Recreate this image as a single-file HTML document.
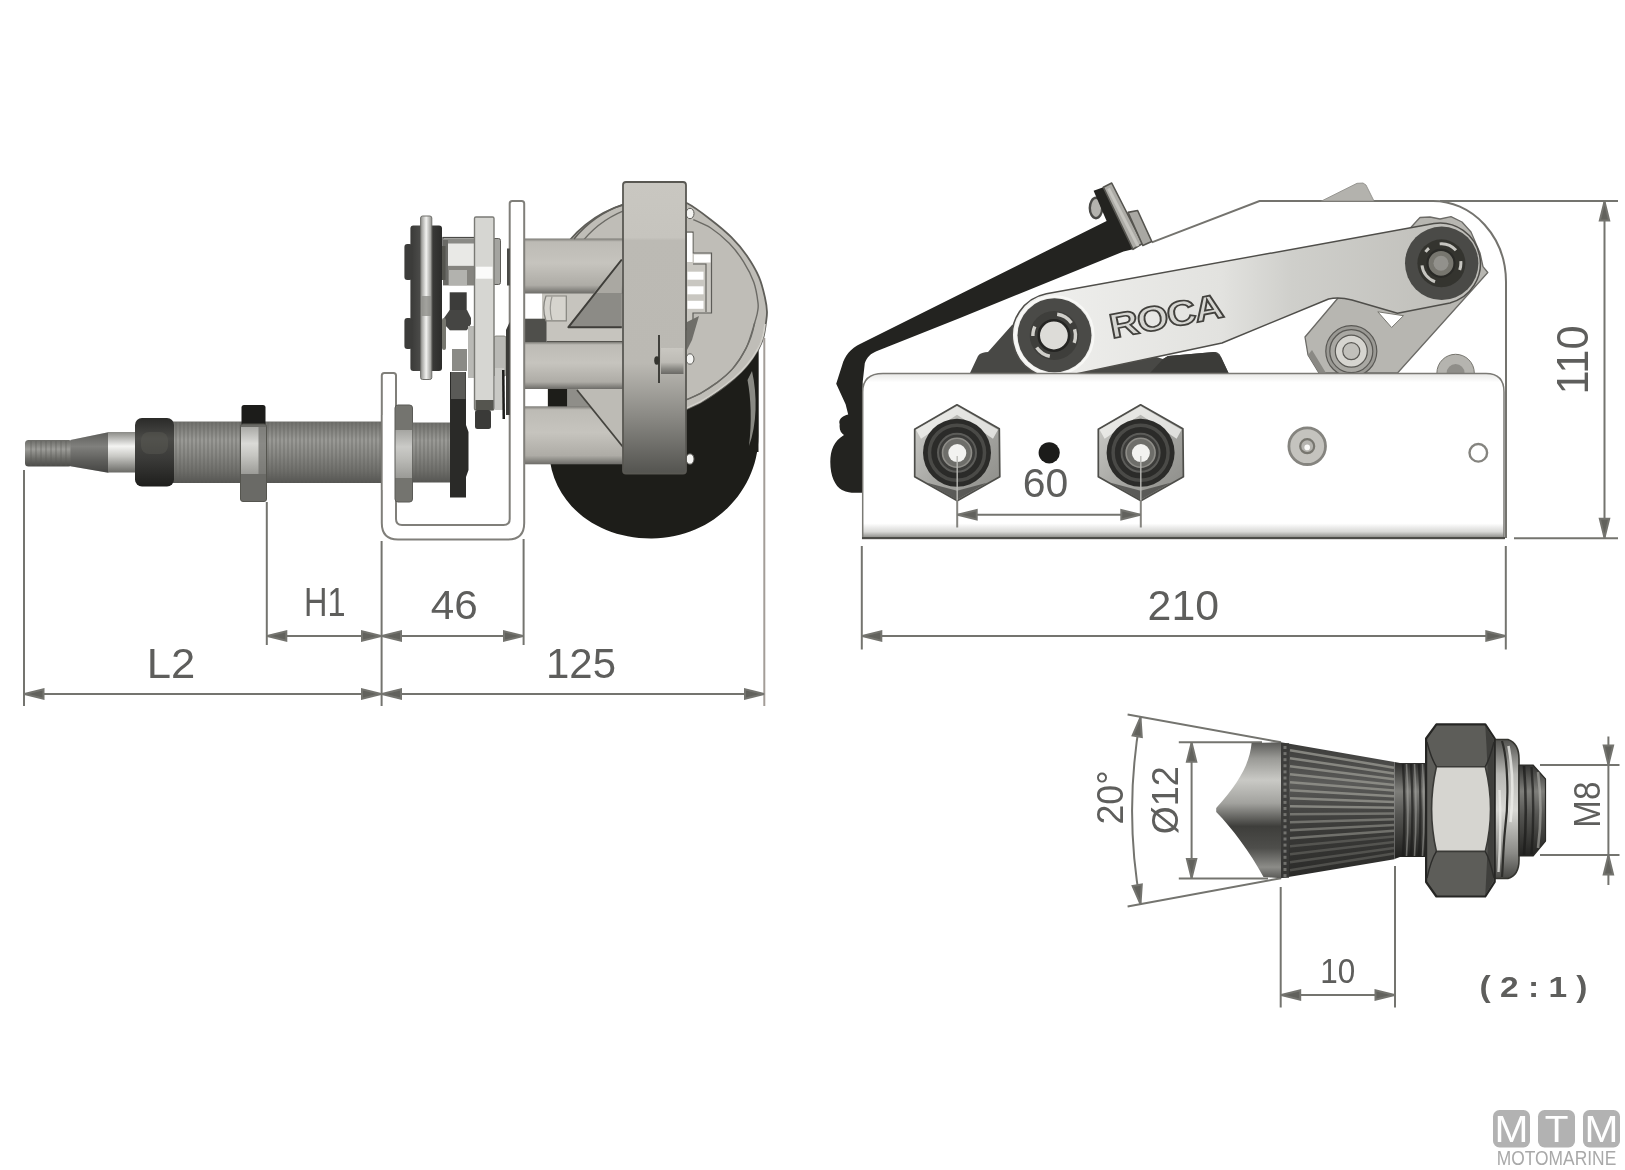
<!DOCTYPE html>
<html><head><meta charset="utf-8"><title>ROCA wiper motor dimensions</title>
<style>
html,body{margin:0;padding:0;background:#fff;}
body{width:1625px;height:1170px;overflow:hidden;font-family:"Liberation Sans",sans-serif;}
svg{display:block;}
svg text{font-family:"Liberation Sans",sans-serif;}
</style></head><body>
<svg width="1625" height="1170" viewBox="0 0 1625 1170" style="filter:blur(0.55px)">
<rect width="1625" height="1170" fill="#ffffff"/>
<defs>
<linearGradient id="gRod" x1="0" y1="0" x2="0" y2="1">
 <stop offset="0" stop-color="#7a7974"/><stop offset="0.06" stop-color="#bdbbb5"/><stop offset="0.45" stop-color="#c6c4be"/><stop offset="0.85" stop-color="#aeaca6"/><stop offset="1" stop-color="#6d6c68"/>
</linearGradient>
<linearGradient id="gFlange" gradientUnits="userSpaceOnUse" x1="0" y1="182" x2="0" y2="474">
 <stop offset="0" stop-color="#c9c7c1"/><stop offset="0.19" stop-color="#c6c4be"/><stop offset="0.2" stop-color="#bcbab4"/><stop offset="0.62" stop-color="#bbb9b3"/><stop offset="0.8" stop-color="#8b8a85"/><stop offset="1" stop-color="#53534f"/>
</linearGradient>
<linearGradient id="gThread" x1="0" y1="0" x2="0" y2="1">
 <stop offset="0" stop-color="#6f6f6b"/><stop offset="0.3" stop-color="#9a9a96"/><stop offset="0.5" stop-color="#8a8a86"/><stop offset="0.8" stop-color="#6e6e6a"/><stop offset="1" stop-color="#555552"/>
</linearGradient>
<linearGradient id="gSilverV" x1="0" y1="0" x2="0" y2="1">
 <stop offset="0" stop-color="#8a8a86"/><stop offset="0.35" stop-color="#f4f4f2"/><stop offset="0.6" stop-color="#c8c8c4"/><stop offset="1" stop-color="#6a6a66"/>
</linearGradient>
<linearGradient id="gTip" x1="0" y1="0" x2="0" y2="1">
 <stop offset="0" stop-color="#6a6a66"/><stop offset="0.35" stop-color="#9c9c98"/><stop offset="0.7" stop-color="#6c6c68"/><stop offset="1" stop-color="#4a4a47"/>
</linearGradient>
<linearGradient id="gCollar" x1="0" y1="0" x2="0" y2="1">
 <stop offset="0" stop-color="#2a2a28"/><stop offset="0.3" stop-color="#4a4a47"/><stop offset="0.6" stop-color="#3a3a38"/><stop offset="1" stop-color="#1e1e1c"/>
</linearGradient>
<linearGradient id="gDisc" x1="0" y1="0" x2="1" y2="0">
 <stop offset="0" stop-color="#8e8e8a"/><stop offset="0.5" stop-color="#f2f2f0"/><stop offset="1" stop-color="#8e8e8a"/>
</linearGradient>
<linearGradient id="gRoller" x1="0" y1="0" x2="1" y2="0">
 <stop offset="0" stop-color="#3a3a38"/><stop offset="0.3" stop-color="#4a4a48"/><stop offset="1" stop-color="#2c2c2a"/>
</linearGradient>
<linearGradient id="gPlateR" gradientUnits="userSpaceOnUse" x1="0" y1="374" x2="0" y2="540">
 <stop offset="0" stop-color="#e9e9e7"/><stop offset="0.05" stop-color="#ffffff"/><stop offset="0.9" stop-color="#ffffff"/><stop offset="0.95" stop-color="#d8d8d6"/><stop offset="0.985" stop-color="#8e8e8a"/><stop offset="1" stop-color="#5c5c58"/>
</linearGradient>
<linearGradient id="gArm" gradientUnits="userSpaceOnUse" x1="1010" y1="0" x2="1480" y2="0">
 <stop offset="0" stop-color="#f1f1ef"/><stop offset="0.45" stop-color="#e2e2df"/><stop offset="0.6" stop-color="#cfcfcb"/><stop offset="1" stop-color="#bdbcb7"/>
</linearGradient>
<linearGradient id="gConeS" gradientUnits="userSpaceOnUse" x1="0" y1="742" x2="0" y2="878">
 <stop offset="0" stop-color="#5a5a57"/><stop offset="0.12" stop-color="#9a9a96"/><stop offset="0.28" stop-color="#c9c9c5"/><stop offset="0.45" stop-color="#a2a29e"/><stop offset="0.62" stop-color="#3e3e3b"/><stop offset="0.78" stop-color="#4e4e4b"/><stop offset="0.92" stop-color="#8c8c88"/><stop offset="1" stop-color="#5a5a57"/>
</linearGradient>
<linearGradient id="gConeD" gradientUnits="userSpaceOnUse" x1="0" y1="742" x2="0" y2="878">
 <stop offset="0" stop-color="#3a3a38"/><stop offset="0.3" stop-color="#5a5a58"/><stop offset="0.6" stop-color="#3c3c3a"/><stop offset="1" stop-color="#2a2a28"/>
</linearGradient>
<linearGradient id="gNutMid" gradientUnits="userSpaceOnUse" x1="0" y1="766" x2="0" y2="854">
 <stop offset="0" stop-color="#8a8a86"/><stop offset="0.25" stop-color="#c6c5c0"/><stop offset="0.7" stop-color="#b4b3ae"/><stop offset="1" stop-color="#8e8d88"/>
</linearGradient>
<linearGradient id="gNutDark" gradientUnits="userSpaceOnUse" x1="0" y1="724" x2="0" y2="896">
 <stop offset="0" stop-color="#454542"/><stop offset="0.2" stop-color="#62625f"/><stop offset="0.8" stop-color="#5a5a57"/><stop offset="1" stop-color="#3c3c3a"/>
</linearGradient>
<linearGradient id="gThrD" gradientUnits="userSpaceOnUse" x1="0" y1="763" x2="0" y2="857">
 <stop offset="0" stop-color="#2e2e2c"/><stop offset="0.3" stop-color="#7e7e7a"/><stop offset="0.55" stop-color="#555552"/><stop offset="1" stop-color="#222220"/>
</linearGradient>
<linearGradient id="gWash" gradientUnits="userSpaceOnUse" x1="0" y1="738" x2="0" y2="882">
 <stop offset="0" stop-color="#4e4e4b"/><stop offset="0.25" stop-color="#b8b8b4"/><stop offset="0.5" stop-color="#d8d8d4"/><stop offset="0.8" stop-color="#8a8a86"/><stop offset="1" stop-color="#3e3e3b"/>
</linearGradient>
<linearGradient id="gHexNut" x1="0" y1="0" x2="1" y2="1">
 <stop offset="0" stop-color="#d0d0cc"/><stop offset="0.5" stop-color="#a8a8a4"/><stop offset="1" stop-color="#8a8a86"/>
</linearGradient>
<linearGradient id="gLug" x1="0" y1="0" x2="0" y2="1">
 <stop offset="0" stop-color="#c9c7c1"/><stop offset="0.55" stop-color="#bdbbb5"/><stop offset="0.8" stop-color="#8a8984"/><stop offset="1" stop-color="#6a6965"/>
</linearGradient>
</defs>
<g id="leftview">
<path d="M549,452 C552,505 598,539 652,538.5 C712,538 758,492 758.5,436 L758.5,300 L600,300 L600,452 Z" fill="#1d1d19"/>
<path d="M655,420 A110,110 0 0 1 545,310 A110,110 0 0 1 655,200 C657.8,200.1 666.6,200.2 672.0,200.8 C677.4,201.4 680.7,200.2 687.2,203.3 C693.7,206.5 703.4,214.0 710.8,219.7 C718.1,225.3 725.3,231.2 731.3,237.2 C737.3,243.2 742.1,248.9 746.7,255.6 C751.3,262.3 756.0,270.2 759.0,277.2 C762.0,284.2 763.7,291.9 765.0,297.7 C766.3,303.5 766.9,307.6 767.0,312.0 C767.1,316.4 766.4,319.7 765.8,324.0 C765.2,328.3 764.5,333.7 763.2,338.0 C761.9,342.3 760.5,345.4 758.0,350.0 C755.5,354.6 751.9,360.7 747.9,365.5 C743.9,370.3 739.4,374.4 734.2,379.0 C729.1,383.6 722.7,388.8 717.0,392.8 C711.3,396.8 705.2,400.2 700.0,403.0 C694.8,405.8 688.3,408.6 686.0,409.7 Z" fill="#bfbdb7" stroke="#5f5e59" stroke-width="1.8"/>
<path d="M579,246 A104,104 0 0 1 624,210.7" fill="none" stroke="#6b6a65" stroke-width="1.3"/>
<path d="M693.3,219.7 C696.2,221.1 704.8,224.1 710.8,228.0 C716.8,231.9 723.7,237.7 729.2,243.3 C734.7,248.9 739.5,255.3 743.6,261.8 C747.7,268.3 751.4,275.5 753.8,282.3 C756.2,289.1 757.4,297.9 758.0,302.8 C758.6,307.8 758.0,308.7 757.5,312.0 C757.0,315.3 756.6,316.6 754.7,322.7 C752.8,328.8 749.7,340.7 746.0,348.4 C742.3,356.1 737.3,363.2 732.5,368.9 C727.7,374.6 722.4,378.5 717.0,382.6 C711.6,386.7 705.2,390.8 700.0,393.7 C694.8,396.6 688.3,398.9 686.0,400.0" fill="none" stroke="#6b6a65" stroke-width="1.4"/>
<path d="M600,421 L687,421 L686,410.5 L700,404 C710,398 722,390 734,380 C742,373 750,365 758.3,351 L758.5,452 L600,452 Z" fill="#1d1d19"/>
<path d="M765,324 C764,336 762,342 757.5,349.5 C750,363 742,371 734,378 C722,388 710,396 700,402 L686,408.5" fill="none" stroke="#d2d0ca" stroke-width="1.6"/>
<path d="M754.7,322.7 C753,332 750,341 746,348.4 C742,356 738,363 732.5,368.9 C728,374 722,379 717,382.6 L700,393.7 L686,400" fill="none" stroke="#6b6a65" stroke-width="1.3"/>
<path d="M752,371 C757.5,395 757,425 749,446 C752,422 751,398 747.5,380 Z" fill="#8a8a84"/>
<path d="M686,232 L693,232 L693,253 L711.5,253 L711.5,313 L693,313 L693,322 L686,330 Z" fill="#c9c7c1" stroke="#5d5c58" stroke-width="1.2"/>
<path d="M693,264 L706,264 L706,312" fill="none" stroke="#5d5c58" stroke-width="1.1"/>
<rect x="687" y="233" width="5.5" height="29" fill="#fff"/>
<rect x="694" y="254.5" width="16.5" height="8" fill="#fff"/>
<rect x="687.5" y="271.7" width="16" height="8" fill="#fff"/>
<rect x="687.5" y="286.3" width="16" height="8" fill="#fff"/>
<rect x="687.5" y="300.8" width="16" height="8" fill="#fff"/>
<path d="M687,322 L699,316 L692,340 L687,350 Z" fill="#6f6e69"/>
<ellipse cx="690" cy="213.5" rx="4" ry="5.2" fill="#f4f4f2" stroke="#5d5c58" stroke-width="1"/>
<ellipse cx="690" cy="359" rx="4" ry="5.2" fill="#f4f4f2" stroke="#5d5c58" stroke-width="1"/>
<ellipse cx="690" cy="459" rx="4" ry="5.2" fill="#f4f4f2" stroke="#5d5c58" stroke-width="1"/>
<rect x="524" y="292" width="99" height="51" fill="#c6c4be"/>
<rect x="524" y="292" width="18" height="27" fill="#fff"/>
<rect x="524" y="318.7" width="22.5" height="24" fill="#4f4f4b"/>
<path d="M546,296 L566.3,296 L566.3,320.8 L546,320.8 Q541.5,308 546,296 Z" fill="#d6d4ce" stroke="#85847f" stroke-width="1.2"/>
<path d="M552,296.5 Q548.5,308 552,320.5" fill="none" stroke="#9a9994" stroke-width="1.2"/>
<line x1="546.5" y1="341.6" x2="623" y2="341.6" stroke="#55544f" stroke-width="1.4"/>
<rect x="524" y="387" width="99" height="22" fill="#bebcb6"/>
<rect x="524" y="387" width="23.5" height="22" fill="#fff"/>
<rect x="548" y="388" width="19.4" height="20" fill="#1d1d19"/>
<polygon points="567.4,388 577,388 590,408 567.4,408" fill="#8f8e89"/>
<rect x="524" y="238.5" width="99" height="55" fill="url(#gRod)"/>
<rect x="524" y="342" width="99" height="47" fill="url(#gRod)"/>
<rect x="524" y="406.3" width="99" height="58" fill="url(#gRod)"/>
<polygon points="593.5,293 621.8,259.5 621.8,293" fill="#aaa8a2"/>
<polygon points="568.4,327.2 595.3,293 621.8,293 621.8,327.2" fill="#8c8b86"/>
<path d="M621.8,259.5 L568.4,327.2 L621.8,327.2" fill="none" stroke="#3f3e3a" stroke-width="2" stroke-linejoin="round"/>
<polygon points="577,390 623.8,448 623.8,390" fill="#bdbbb5"/>
<line x1="577" y1="390" x2="623.8" y2="448" stroke="#45443f" stroke-width="1.8"/>
<path d="M574,239 A110,110 0 0 1 623,204.6" fill="none" stroke="#5f5e59" stroke-width="1.6"/>
<rect x="623" y="182" width="63" height="291.5" rx="3" fill="url(#gFlange)" stroke="#595853" stroke-width="1.8"/>
<rect x="661" y="348" width="22.5" height="26" fill="url(#gLug)"/>
<path d="M659,335 L659,383" fill="none" stroke="#34342f" stroke-width="1.8"/>
<ellipse cx="656.8" cy="360.5" rx="2.6" ry="4.2" fill="#34342f"/>
<path d="M381.8,375.5 Q381.8,373 384.3,373 L393.5,373 Q396,373 396,375.5 L396,519 Q396,525 402,525 L503.5,525 Q509.7,525 509.7,519 L509.7,203.5 Q509.7,201 512.2,201 L521.7,201 Q524.2,201 524.2,203.5 L524.2,523 Q524.2,539.5 508,539.5 L398,539.5 Q381.8,539.5 381.8,523 Z" fill="#ffffff" stroke="#807f7a" stroke-width="2" stroke-linejoin="round"/>
<rect x="25" y="440" width="47" height="26.5" rx="3.5" fill="url(#gTip)"/>
<line x1="31" y1="441" x2="31" y2="466" stroke="#5a5a57" stroke-width="1" opacity="0.55"/>
<line x1="36" y1="441" x2="36" y2="466" stroke="#5a5a57" stroke-width="1" opacity="0.55"/>
<line x1="41" y1="441" x2="41" y2="466" stroke="#5a5a57" stroke-width="1" opacity="0.55"/>
<line x1="46" y1="441" x2="46" y2="466" stroke="#5a5a57" stroke-width="1" opacity="0.55"/>
<line x1="51" y1="441" x2="51" y2="466" stroke="#5a5a57" stroke-width="1" opacity="0.55"/>
<line x1="56" y1="441" x2="56" y2="466" stroke="#5a5a57" stroke-width="1" opacity="0.55"/>
<line x1="61" y1="441" x2="61" y2="466" stroke="#5a5a57" stroke-width="1" opacity="0.55"/>
<line x1="66" y1="441" x2="66" y2="466" stroke="#5a5a57" stroke-width="1" opacity="0.55"/>
<polygon points="70.5,440 108.3,432.3 108.3,472.7 70.5,466.3" fill="url(#gTip)"/><polygon points="70.5,440 108.3,432.3 108.3,472.7 70.5,466.3" fill="#3a3a38" opacity="0.28"/>
<rect x="108" y="432" width="27" height="40.5" fill="url(#gSilverV)"/>
<rect x="172" y="421.5" width="212" height="61.5" fill="url(#gThread)"/>
<line x1="176" y1="422" x2="176" y2="483" stroke="#5e5e5a" stroke-width="1.1" opacity="0.5"/>
<line x1="180" y1="422" x2="180" y2="483" stroke="#5e5e5a" stroke-width="1.1" opacity="0.5"/>
<line x1="184" y1="422" x2="184" y2="483" stroke="#5e5e5a" stroke-width="1.1" opacity="0.5"/>
<line x1="188" y1="422" x2="188" y2="483" stroke="#5e5e5a" stroke-width="1.1" opacity="0.5"/>
<line x1="192" y1="422" x2="192" y2="483" stroke="#5e5e5a" stroke-width="1.1" opacity="0.5"/>
<line x1="196" y1="422" x2="196" y2="483" stroke="#5e5e5a" stroke-width="1.1" opacity="0.5"/>
<line x1="200" y1="422" x2="200" y2="483" stroke="#5e5e5a" stroke-width="1.1" opacity="0.5"/>
<line x1="204" y1="422" x2="204" y2="483" stroke="#5e5e5a" stroke-width="1.1" opacity="0.5"/>
<line x1="208" y1="422" x2="208" y2="483" stroke="#5e5e5a" stroke-width="1.1" opacity="0.5"/>
<line x1="212" y1="422" x2="212" y2="483" stroke="#5e5e5a" stroke-width="1.1" opacity="0.5"/>
<line x1="216" y1="422" x2="216" y2="483" stroke="#5e5e5a" stroke-width="1.1" opacity="0.5"/>
<line x1="220" y1="422" x2="220" y2="483" stroke="#5e5e5a" stroke-width="1.1" opacity="0.5"/>
<line x1="224" y1="422" x2="224" y2="483" stroke="#5e5e5a" stroke-width="1.1" opacity="0.5"/>
<line x1="228" y1="422" x2="228" y2="483" stroke="#5e5e5a" stroke-width="1.1" opacity="0.5"/>
<line x1="232" y1="422" x2="232" y2="483" stroke="#5e5e5a" stroke-width="1.1" opacity="0.5"/>
<line x1="236" y1="422" x2="236" y2="483" stroke="#5e5e5a" stroke-width="1.1" opacity="0.5"/>
<line x1="240" y1="422" x2="240" y2="483" stroke="#5e5e5a" stroke-width="1.1" opacity="0.5"/>
<line x1="244" y1="422" x2="244" y2="483" stroke="#5e5e5a" stroke-width="1.1" opacity="0.5"/>
<line x1="248" y1="422" x2="248" y2="483" stroke="#5e5e5a" stroke-width="1.1" opacity="0.5"/>
<line x1="252" y1="422" x2="252" y2="483" stroke="#5e5e5a" stroke-width="1.1" opacity="0.5"/>
<line x1="256" y1="422" x2="256" y2="483" stroke="#5e5e5a" stroke-width="1.1" opacity="0.5"/>
<line x1="260" y1="422" x2="260" y2="483" stroke="#5e5e5a" stroke-width="1.1" opacity="0.5"/>
<line x1="264" y1="422" x2="264" y2="483" stroke="#5e5e5a" stroke-width="1.1" opacity="0.5"/>
<line x1="268" y1="422" x2="268" y2="483" stroke="#5e5e5a" stroke-width="1.1" opacity="0.5"/>
<line x1="272" y1="422" x2="272" y2="483" stroke="#5e5e5a" stroke-width="1.1" opacity="0.5"/>
<line x1="276" y1="422" x2="276" y2="483" stroke="#5e5e5a" stroke-width="1.1" opacity="0.5"/>
<line x1="280" y1="422" x2="280" y2="483" stroke="#5e5e5a" stroke-width="1.1" opacity="0.5"/>
<line x1="284" y1="422" x2="284" y2="483" stroke="#5e5e5a" stroke-width="1.1" opacity="0.5"/>
<line x1="288" y1="422" x2="288" y2="483" stroke="#5e5e5a" stroke-width="1.1" opacity="0.5"/>
<line x1="292" y1="422" x2="292" y2="483" stroke="#5e5e5a" stroke-width="1.1" opacity="0.5"/>
<line x1="296" y1="422" x2="296" y2="483" stroke="#5e5e5a" stroke-width="1.1" opacity="0.5"/>
<line x1="300" y1="422" x2="300" y2="483" stroke="#5e5e5a" stroke-width="1.1" opacity="0.5"/>
<line x1="304" y1="422" x2="304" y2="483" stroke="#5e5e5a" stroke-width="1.1" opacity="0.5"/>
<line x1="308" y1="422" x2="308" y2="483" stroke="#5e5e5a" stroke-width="1.1" opacity="0.5"/>
<line x1="312" y1="422" x2="312" y2="483" stroke="#5e5e5a" stroke-width="1.1" opacity="0.5"/>
<line x1="316" y1="422" x2="316" y2="483" stroke="#5e5e5a" stroke-width="1.1" opacity="0.5"/>
<line x1="320" y1="422" x2="320" y2="483" stroke="#5e5e5a" stroke-width="1.1" opacity="0.5"/>
<line x1="324" y1="422" x2="324" y2="483" stroke="#5e5e5a" stroke-width="1.1" opacity="0.5"/>
<line x1="328" y1="422" x2="328" y2="483" stroke="#5e5e5a" stroke-width="1.1" opacity="0.5"/>
<line x1="332" y1="422" x2="332" y2="483" stroke="#5e5e5a" stroke-width="1.1" opacity="0.5"/>
<line x1="336" y1="422" x2="336" y2="483" stroke="#5e5e5a" stroke-width="1.1" opacity="0.5"/>
<line x1="340" y1="422" x2="340" y2="483" stroke="#5e5e5a" stroke-width="1.1" opacity="0.5"/>
<line x1="344" y1="422" x2="344" y2="483" stroke="#5e5e5a" stroke-width="1.1" opacity="0.5"/>
<line x1="348" y1="422" x2="348" y2="483" stroke="#5e5e5a" stroke-width="1.1" opacity="0.5"/>
<line x1="352" y1="422" x2="352" y2="483" stroke="#5e5e5a" stroke-width="1.1" opacity="0.5"/>
<line x1="356" y1="422" x2="356" y2="483" stroke="#5e5e5a" stroke-width="1.1" opacity="0.5"/>
<line x1="360" y1="422" x2="360" y2="483" stroke="#5e5e5a" stroke-width="1.1" opacity="0.5"/>
<line x1="364" y1="422" x2="364" y2="483" stroke="#5e5e5a" stroke-width="1.1" opacity="0.5"/>
<line x1="368" y1="422" x2="368" y2="483" stroke="#5e5e5a" stroke-width="1.1" opacity="0.5"/>
<line x1="372" y1="422" x2="372" y2="483" stroke="#5e5e5a" stroke-width="1.1" opacity="0.5"/>
<line x1="376" y1="422" x2="376" y2="483" stroke="#5e5e5a" stroke-width="1.1" opacity="0.5"/>
<line x1="380" y1="422" x2="380" y2="483" stroke="#5e5e5a" stroke-width="1.1" opacity="0.5"/>
<rect x="135" y="418" width="39" height="68.5" rx="7" fill="url(#gCollar)"/>
<rect x="141" y="432" width="27" height="22" rx="8" fill="#5a5a55" opacity="0.45"/>
<rect x="241.5" y="405" width="24" height="22" rx="2.5" fill="#1c1c1a"/>
<rect x="240.5" y="424" width="26" height="77.5" rx="2.5" fill="#6a6a66"/>
<rect x="240.5" y="427" width="26" height="47" fill="#c4c4c0"/>
<rect x="240.5" y="427" width="26" height="47" fill="url(#gSilverV)" opacity="0.45"/>
<rect x="258.5" y="427" width="8" height="47" fill="#6f6f6b" opacity="0.75"/>
<rect x="240.5" y="424" width="26" height="77.5" rx="2.5" fill="none" stroke="#55554f" stroke-width="1"/>
<rect x="381.8" y="415" width="14.2" height="75" fill="#fff"/>
<line x1="381.8" y1="415" x2="381.8" y2="490" stroke="#7c7b76" stroke-width="1.7"/><line x1="396" y1="415" x2="396" y2="490" stroke="#7c7b76" stroke-width="1.7"/>
<rect x="395" y="405" width="17.5" height="97" rx="3" fill="#74746f"/>
<rect x="395" y="430" width="17.5" height="48" fill="#b4b4b0"/>
<rect x="395" y="430" width="17.5" height="48" fill="url(#gSilverV)" opacity="0.35"/>
<rect x="395" y="405" width="17.5" height="97" rx="3" fill="none" stroke="#5a5a56" stroke-width="1"/>
<rect x="412.5" y="422.5" width="38" height="60" fill="url(#gThread)"/>
<line x1="416" y1="423" x2="416" y2="482" stroke="#5e5e5a" stroke-width="1.1" opacity="0.5"/>
<line x1="420" y1="423" x2="420" y2="482" stroke="#5e5e5a" stroke-width="1.1" opacity="0.5"/>
<line x1="424" y1="423" x2="424" y2="482" stroke="#5e5e5a" stroke-width="1.1" opacity="0.5"/>
<line x1="428" y1="423" x2="428" y2="482" stroke="#5e5e5a" stroke-width="1.1" opacity="0.5"/>
<line x1="432" y1="423" x2="432" y2="482" stroke="#5e5e5a" stroke-width="1.1" opacity="0.5"/>
<line x1="436" y1="423" x2="436" y2="482" stroke="#5e5e5a" stroke-width="1.1" opacity="0.5"/>
<line x1="440" y1="423" x2="440" y2="482" stroke="#5e5e5a" stroke-width="1.1" opacity="0.5"/>
<line x1="444" y1="423" x2="444" y2="482" stroke="#5e5e5a" stroke-width="1.1" opacity="0.5"/>
<line x1="448" y1="423" x2="448" y2="482" stroke="#5e5e5a" stroke-width="1.1" opacity="0.5"/>
<path d="M450,372 L466,372 L466,425 L468.5,432 L468.5,470 L466,477 L466,497.5 L450,497.5 Z" fill="#2a2a28"/>
<rect x="451" y="372" width="14.5" height="27" fill="#5a5a57"/>
<rect x="493" y="238.5" width="7.5" height="46" rx="2" fill="#a4a4a0" stroke="#5d5c58" stroke-width="1"/>
<rect x="507" y="248.5" width="2.8" height="37" fill="#4a4a47"/>
<rect x="494" y="336" width="12" height="40" rx="2" fill="#b9b9b5" stroke="#77766f" stroke-width="0.8"/>
<path d="M506,330 L509.7,322 L509.7,415 L506,415 Z" fill="#3a3a37"/>
<rect x="495" y="368" width="9" height="42" fill="#c9c9c5"/>
<path d="M502,370 L504.5,370 L505,419 L502.5,419 Z" fill="#1d1d1b"/>
<rect x="443" y="237.6" width="32" height="29" fill="#e9e9e6" stroke="#4a4a47" stroke-width="1.4"/>
<rect x="443" y="238.5" width="32" height="5" fill="#8a8a86"/>
<rect x="443" y="266" width="32" height="19.5" fill="#85847f"/>
<rect x="449" y="270" width="18" height="15" fill="#b2b2ae"/>
<rect x="443" y="240" width="5" height="45" fill="#6a6a66"/>
<rect x="449.7" y="292.3" width="17" height="38" fill="#3c3c3a"/>
<path d="M444,318 L449.7,310 L467,310 L471,318 L471,324 L467,330 L449.7,330 L444,324 Z" fill="#454543"/>
<rect x="452" y="333" width="15" height="16" fill="#fff"/>
<rect x="452" y="349" width="15" height="22" fill="#8a8a86"/>
<rect x="468" y="326" width="7" height="52" fill="#b9b9b5"/>
<rect x="468" y="378" width="7" height="22" fill="#fff"/>
<rect x="474.5" y="217" width="19.5" height="193" rx="1.5" fill="#d6d6d2" stroke="#7a7a75" stroke-width="1.4"/>
<rect x="476" y="266.7" width="16.5" height="12" fill="#fbfbfa"/>
<rect x="475.5" y="400" width="18" height="10" fill="#55554f"/>
<rect x="475" y="410" width="16" height="19" rx="2.5" fill="#3a3a38"/>
<rect x="410.4" y="225.6" width="31.6" height="145.4" rx="3" fill="url(#gRoller)"/>
<rect x="404.4" y="244" width="8" height="36" rx="3" fill="#3c3c3a"/>
<rect x="404.4" y="318" width="8" height="31" rx="3" fill="#3c3c3a"/>
<rect x="442" y="246" width="3.5" height="34" fill="#55554f"/>
<rect x="442" y="318" width="4" height="32" rx="2" fill="#77776f"/>
<rect x="420.6" y="216" width="11.2" height="163.5" rx="2" fill="url(#gDisc)" stroke="#6f6f6b" stroke-width="1"/>
<rect x="421.5" y="296" width="9.4" height="20" fill="#8e8e8a" opacity="0.8"/>
</g>
<g id="rightview">
<path d="M1131,250 L1259.5,201 L1433,201 A73,81 0 0 1 1506,282 L1506,538 L1480,538 L1480,380 L1131,380 Z" fill="#ffffff"/>
<path d="M1151.8,242.4 L1259.5,201 L1433,201 A73,81 0 0 1 1506,282 L1506,538" fill="none" stroke="#74736e" stroke-width="2"/>
<polygon points="1321.5,201 1357,183.3 1363,183 1366,185 1374,201" fill="#b3b2ad" stroke="#8a8984" stroke-width="0.8"/>
<ellipse cx="1096" cy="208" rx="6.2" ry="10.2" fill="#b4b3ae" stroke="#4a4a47" stroke-width="2.4"/>
<path d="M1093.6,190.7 L1106.6,220.9 L861,343.6 C850,349 845,356 842.2,365 L836.2,383.8 L845.6,404.3 L848.2,414.5 C842,416 838,420 839.7,424 C839,430 841,433 844,435 C834,441 830.3,450 830.3,462 C830.3,476 835,486 842,490 C847,492.5 851,492.8 854.2,492.8 L862.7,492.8 L862.7,382 L864.8,363.2 C867,357 871,353.5 876.4,351.3 L960,318 L1123.5,251.5 L1133,249.3 L1103.3,187.2 Z" fill="#232320"/>
<polygon points="1103.3,187.2 1111.7,183 1142.5,243.5 1133,249.3" fill="#acaba6" stroke="#55544f" stroke-width="1.6" stroke-linejoin="round"/>
<line x1="1108.5" y1="188.5" x2="1138" y2="246" stroke="#c6c5c0" stroke-width="3"/>
<polygon points="1128,212.4 1137.6,210.5 1151.8,241.5 1142.8,245.5" fill="#a9a8a3" stroke="#55544f" stroke-width="1.6" stroke-linejoin="round"/>
<path d="M970,373 L978,356 C980,353 984,352 988,352 L1012,325 L1060,300 L1100,340 L1163,359 L1168,356 L1214,352 C1218,352 1220,354 1221,357 L1228.5,373 Z" fill="#484845"/>
<path d="M1163,359 L1168,356 L1214,352 L1221,357 L1228.5,373 L1150,373 Z" fill="#3b3b38"/>
<path d="M1338,298 L1352,293 L1416.7,221 L1420,217.5 L1430,217 L1440,219 L1451,216.7 L1462,222 L1471,232 L1480,253 L1483,266.7 L1487.8,272.5 L1397.5,373 L1319,373 L1308,355 L1305,337 Z" fill="#b7b6b1" stroke="#6b6a66" stroke-width="1.3" stroke-linejoin="round"/>
<polygon points="1377.8,311.8 1403.5,315.7 1391.6,327.5" fill="#ffffff" stroke="#77766f" stroke-width="1"/>
<path d="M1308,355 L1319,373 L1326,373 L1312,350 Z" fill="#8a8984"/>
<circle cx="1351.3" cy="351.2" r="25.5" fill="#9a9994" stroke="#595854" stroke-width="1.2"/>
<circle cx="1351.3" cy="351.2" r="21.5" fill="#a9a8a3" stroke="#595854" stroke-width="1.2"/>
<circle cx="1351.3" cy="351.2" r="16" fill="#d6d5d0" stroke="#595854" stroke-width="1.2"/>
<circle cx="1351.3" cy="351.2" r="8.5" fill="#c1c0bb" stroke="#595854" stroke-width="1.2"/>
<circle cx="1455.6" cy="373" r="18.7" fill="#b5b4af" stroke="#77766f" stroke-width="1"/>
<circle cx="1455.6" cy="373" r="9" fill="#8f8e89"/>
<path d="M1046.4,293.8 L1433.9,223.6 A40.5,40.5 0 0 1 1449.9,302.9 L1397.5,313.3 L1352,300 C1342,297.5 1336,297.5 1328.6,299 L1222,343 L1062.8,376.8 A42.3,42.3 0 0 1 1046.4,293.8 Z" fill="url(#gArm)" stroke="#4f4e4a" stroke-width="1.5" stroke-linejoin="round"/>
<circle cx="1054.5" cy="335.3" r="37" fill="#4a4a47"/>
<circle cx="1054.5" cy="335.3" r="39" fill="none" stroke="#f8f8f6" stroke-width="2.2"/>
<circle cx="1054.2" cy="335.4" r="24.5" fill="#3e3e3b"/>
<circle cx="1054.2" cy="335.4" r="21.3" fill="none" stroke="#d0cfca" stroke-width="3.4" stroke-dasharray="17 7 14 30 16 12 10 200" transform="rotate(-82 1054.2 335.4)"/>
<circle cx="1053.9" cy="335.5" r="15.2" fill="#dddcd8" stroke="#252523" stroke-width="2.6"/>
<circle cx="1441.7" cy="263.3" r="36.7" fill="#4a4a47"/>
<circle cx="1441.4" cy="263.3" r="24" fill="#34342f"/>
<circle cx="1441.4" cy="263.3" r="19.5" fill="none" stroke="#c6c5c0" stroke-width="3" stroke-dasharray="18 12 9 30 22 14 5 200" transform="rotate(-95 1441.4 263.3)"/>
<circle cx="1441" cy="263.3" r="13.5" fill="#77766f" stroke="#2a2a27" stroke-width="2.2"/>
<circle cx="1441" cy="263.3" r="7.5" fill="#92918c"/>
<g transform="translate(1112,338.6) rotate(-10.9) scale(1.17,1)"><text x="0" y="0" font-size="34.5" font-weight="bold" fill="#d6d6d2" stroke="#42413d" stroke-width="1.7" letter-spacing="-1">ROCA</text></g>
<path d="M862.7,538.5 L862.7,392 Q862.7,373.6 883,373.6 L1486,373.6 Q1504,373.6 1504,392 L1504,538.5 Z" fill="url(#gPlateR)" stroke="#7b7a75" stroke-width="1.5"/>
<line x1="862" y1="538" x2="1505" y2="538" stroke="#4c4c48" stroke-width="2.2"/>
<polygon points="957.0,404.8 999.3,428.8 999.8,476.8 957.3,500.8 914.7,476.8 914.7,429.3" fill="url(#gHexNut)" stroke="#4e4e4a" stroke-width="1.7" stroke-linejoin="round"/><polygon points="916,429.8 957,406.3 998,429.8 993,438.8 957,414.8 921,438.8" fill="#f4f4f2" opacity="0.75"/><polygon points="927,482.8 957,499.8 987,482.8 957,490.8" fill="#4a4a47" opacity="0.8"/><circle cx="957" cy="452.8" r="34" fill="#2b2b29"/><circle cx="957" cy="452.8" r="27.5" fill="none" stroke="#4a4a47" stroke-width="3.5"/><circle cx="957" cy="452.8" r="19" fill="#3c3c3a" stroke="#5c5c59" stroke-width="2"/><circle cx="957" cy="452.8" r="14.5" fill="#6e6e6a" stroke="#8f8e89" stroke-width="1.6"/><circle cx="957.3" cy="453.1" r="9" fill="#f2f2f0"/>
<polygon points="1140.6,404.8 1182.9,428.8 1183.4,476.8 1140.9,500.8 1098.3,476.8 1098.3,429.3" fill="url(#gHexNut)" stroke="#4e4e4a" stroke-width="1.7" stroke-linejoin="round"/><polygon points="1099.6,429.8 1140.6,406.3 1181.6,429.8 1176.6,438.8 1140.6,414.8 1104.6,438.8" fill="#f4f4f2" opacity="0.75"/><polygon points="1110.6,482.8 1140.6,499.8 1170.6,482.8 1140.6,490.8" fill="#4a4a47" opacity="0.8"/><circle cx="1140.6" cy="452.8" r="34" fill="#2b2b29"/><circle cx="1140.6" cy="452.8" r="27.5" fill="none" stroke="#4a4a47" stroke-width="3.5"/><circle cx="1140.6" cy="452.8" r="19" fill="#3c3c3a" stroke="#5c5c59" stroke-width="2"/><circle cx="1140.6" cy="452.8" r="14.5" fill="#6e6e6a" stroke="#8f8e89" stroke-width="1.6"/><circle cx="1140.8999999999999" cy="453.1" r="9" fill="#f2f2f0"/>
<circle cx="1049.2" cy="452.8" r="10.6" fill="#1c1c1a"/>
<circle cx="1307.2" cy="446.2" r="18.3" fill="#c4c3be" stroke="#85847f" stroke-width="2.8"/>
<circle cx="1307.2" cy="446.2" r="7" fill="#b5b4af" stroke="#77766f" stroke-width="2.2"/>
<circle cx="1307.2" cy="447.4" r="2.8" fill="#fafaf8"/>
<circle cx="1478.3" cy="452.8" r="8.8" fill="#ffffff" stroke="#85847f" stroke-width="2.4"/>
</g>
<g id="detail">
<g stroke="#74746f" stroke-width="2" fill="none">
<line x1="1127.6" y1="714.6" x2="1281" y2="742.3"/>
<line x1="1127.6" y1="906.6" x2="1281" y2="878.2"/>
<path d="M1140.6,717 A523,523 0 0 0 1140.6,904.4"/>
<line x1="1178.8" y1="742.2" x2="1262" y2="742.2"/>
<line x1="1178.8" y1="878.6" x2="1268" y2="878.6"/>
<line x1="1191.6" y1="742.8" x2="1191.6" y2="878"/><polygon points="1191.6,742.8 1196.3,761.8 1186.9,761.8" fill="#62625d"/><polygon points="1191.6,878.0 1186.9,859.0 1196.3,859.0" fill="#62625d"/>
<polygon points="1140.5,717.5 1141.8,737.0 1132.6,735.4" fill="#62625d"/>
<polygon points="1140.5,904.0 1132.6,886.1 1141.8,884.5" fill="#62625d"/>
<line x1="1280.7" y1="887" x2="1280.7" y2="1007.5"/>
<line x1="1395" y1="866" x2="1395" y2="1007.5"/>
<line x1="1281.2" y1="995" x2="1394.5" y2="995"/><polygon points="1281.2,995.0 1300.2,990.3 1300.2,999.7" fill="#62625d"/><polygon points="1394.5,995.0 1375.5,999.7 1375.5,990.3" fill="#62625d"/>
<line x1="1540" y1="765" x2="1619.5" y2="765"/>
<line x1="1540" y1="855" x2="1619.5" y2="855"/>
<line x1="1608.4" y1="736.5" x2="1608.4" y2="885"/>
<polygon points="1608.4,764.5 1603.7,745.5 1613.1,745.5" fill="#62625d"/>
<polygon points="1608.4,855.5 1613.1,874.5 1603.7,874.5" fill="#62625d"/>
</g>
<path d="M1394.5,762 L1400,763 L1426,763 L1426,857 L1400,857 L1394.5,859 Z" fill="url(#gThrD)"/>
<path d="M1403,764 q3,46 0,92" stroke="#1e1e1c" stroke-width="2.4" fill="none" opacity="0.7"/>
<path d="M1406.5,764 q3,46 0,92" stroke="#a4a4a0" stroke-width="1.6" fill="none" opacity="0.55"/>
<path d="M1411,764 q3,46 0,92" stroke="#1e1e1c" stroke-width="2.4" fill="none" opacity="0.7"/>
<path d="M1414.5,764 q3,46 0,92" stroke="#a4a4a0" stroke-width="1.6" fill="none" opacity="0.55"/>
<path d="M1419,764 q3,46 0,92" stroke="#1e1e1c" stroke-width="2.4" fill="none" opacity="0.7"/>
<path d="M1422.5,764 q3,46 0,92" stroke="#a4a4a0" stroke-width="1.6" fill="none" opacity="0.55"/>
<path d="M1251.6,743 C1250,762 1240,782 1216.2,808 L1216.2,812 C1232,828 1250,852 1263.5,877 L1281,878.2 L1281,742.3 Z" fill="url(#gConeS)"/>
<path d="M1281,742.2 L1394.5,762 L1394.5,859.3 L1281,878.3 Z" fill="url(#gConeD)"/>
<line x1="1290" y1="750.2" x2="1394" y2="767.7" stroke="#96968f" stroke-width="2.5" opacity="0.8"/>
<line x1="1290" y1="758.2" x2="1394" y2="773.4" stroke="#96968f" stroke-width="2.5" opacity="0.8"/>
<line x1="1290" y1="766.2" x2="1394" y2="779.2" stroke="#96968f" stroke-width="2.5" opacity="0.8"/>
<line x1="1290" y1="774.2" x2="1394" y2="784.9" stroke="#96968f" stroke-width="2.5" opacity="0.8"/>
<line x1="1290" y1="782.2" x2="1394" y2="790.6" stroke="#96968f" stroke-width="2.5" opacity="0.8"/>
<line x1="1290" y1="790.2" x2="1394" y2="796.3" stroke="#96968f" stroke-width="2.5" opacity="0.8"/>
<line x1="1290" y1="798.2" x2="1394" y2="802.1" stroke="#96968f" stroke-width="2.5" opacity="0.8"/>
<line x1="1290" y1="806.2" x2="1394" y2="807.8" stroke="#96968f" stroke-width="2.5" opacity="0.8"/>
<line x1="1290" y1="814.3" x2="1394" y2="813.5" stroke="#96968f" stroke-width="2.5" opacity="0.6"/>
<line x1="1290" y1="822.3" x2="1394" y2="819.2" stroke="#96968f" stroke-width="2.5" opacity="0.6"/>
<line x1="1290" y1="830.3" x2="1394" y2="825.0" stroke="#96968f" stroke-width="2.5" opacity="0.6"/>
<line x1="1290" y1="838.3" x2="1394" y2="830.7" stroke="#96968f" stroke-width="2.5" opacity="0.6"/>
<line x1="1290" y1="846.3" x2="1394" y2="836.4" stroke="#96968f" stroke-width="2.5" opacity="0.32"/>
<line x1="1290" y1="854.3" x2="1394" y2="842.1" stroke="#96968f" stroke-width="2.5" opacity="0.32"/>
<line x1="1290" y1="862.3" x2="1394" y2="847.9" stroke="#96968f" stroke-width="2.5" opacity="0.32"/>
<line x1="1290" y1="870.3" x2="1394" y2="853.6" stroke="#96968f" stroke-width="2.5" opacity="0.32"/>
<rect x="1281" y="743" width="8" height="135" fill="#3a3a38" opacity="0.75"/>
<rect x="1283.5" y="746.0" width="3" height="3" fill="#8a8a86" opacity="0.7"/>
<rect x="1283.5" y="752.1" width="3" height="3" fill="#8a8a86" opacity="0.7"/>
<rect x="1283.5" y="758.2" width="3" height="3" fill="#8a8a86" opacity="0.7"/>
<rect x="1283.5" y="764.3" width="3" height="3" fill="#8a8a86" opacity="0.7"/>
<rect x="1283.5" y="770.4" width="3" height="3" fill="#8a8a86" opacity="0.7"/>
<rect x="1283.5" y="776.5" width="3" height="3" fill="#8a8a86" opacity="0.7"/>
<rect x="1283.5" y="782.6" width="3" height="3" fill="#8a8a86" opacity="0.7"/>
<rect x="1283.5" y="788.7" width="3" height="3" fill="#8a8a86" opacity="0.7"/>
<rect x="1283.5" y="794.8" width="3" height="3" fill="#8a8a86" opacity="0.7"/>
<rect x="1283.5" y="800.9" width="3" height="3" fill="#8a8a86" opacity="0.7"/>
<rect x="1283.5" y="807.0" width="3" height="3" fill="#8a8a86" opacity="0.7"/>
<rect x="1283.5" y="813.1" width="3" height="3" fill="#8a8a86" opacity="0.7"/>
<rect x="1283.5" y="819.2" width="3" height="3" fill="#8a8a86" opacity="0.7"/>
<rect x="1283.5" y="825.3" width="3" height="3" fill="#8a8a86" opacity="0.7"/>
<rect x="1283.5" y="831.4" width="3" height="3" fill="#8a8a86" opacity="0.7"/>
<rect x="1283.5" y="837.5" width="3" height="3" fill="#8a8a86" opacity="0.7"/>
<rect x="1283.5" y="843.6" width="3" height="3" fill="#8a8a86" opacity="0.7"/>
<rect x="1283.5" y="849.7" width="3" height="3" fill="#8a8a86" opacity="0.7"/>
<rect x="1283.5" y="855.8" width="3" height="3" fill="#8a8a86" opacity="0.7"/>
<rect x="1283.5" y="861.9" width="3" height="3" fill="#8a8a86" opacity="0.7"/>
<rect x="1283.5" y="868.0" width="3" height="3" fill="#8a8a86" opacity="0.7"/>
<rect x="1283.5" y="874.1" width="3" height="3" fill="#8a8a86" opacity="0.7"/>
<path d="M1494,739.5 L1508,739.5 C1515,742 1519,749 1519,759 L1519,860 C1519,870 1515,876.5 1508,878.5 L1494,878.5 Z" fill="url(#gWash)" stroke="#34342f" stroke-width="1.6"/>
<path d="M1502,741 C1508,760 1509,800 1505,830 C1503,850 1503,866 1502,877" fill="none" stroke="#2e2e2b" stroke-width="2.2"/>
<path d="M1508.5,746 C1513,770 1513,800 1510.5,822" fill="none" stroke="#ecece8" stroke-width="2.6" opacity="0.8"/>
<path d="M1499.5,790 C1501,815 1500,850 1498.5,872" fill="none" stroke="#ecece8" stroke-width="2.4" opacity="0.75"/>
<path d="M1519,765 L1533,765 L1545.5,779 L1545.5,841 L1533,856 L1519,856 Z" fill="url(#gThrD)" stroke="#2a2a27" stroke-width="1.2" stroke-linejoin="round"/>
<path d="M1524,766 q3.5,44 0,89" stroke="#1e1e1c" stroke-width="2.6" fill="none" opacity="0.75"/>
<path d="M1531.5,767 q3.5,43 0,87" stroke="#1e1e1c" stroke-width="2.4" fill="none" opacity="0.7"/>
<path d="M1538,772 q5,38 0,76" stroke="#b9b9b5" stroke-width="2.6" fill="none" opacity="0.55"/>
<path d="M1436.4,724.4 L1485.3,724.4 L1494.7,738.5 L1494.7,882 L1485.3,896.5 L1436.4,896.5 L1426.1,882 L1426.1,738.5 Z" fill="#5d5d59" stroke="#262624" stroke-width="2.2" stroke-linejoin="round"/>
<path d="M1485.3,726 L1493.5,739 L1493.5,881 L1485.3,895 Q1491,810 1485.3,726 Z" fill="#3f3f3c"/>
<path d="M1436.4,766.7 L1485.3,766.7 Q1495.8,809 1485.3,851.4 L1436.4,851.4 Q1426.8,809 1436.4,766.7 Z" fill="#d6d5d0" stroke="#3a3a37" stroke-width="1.6" stroke-linejoin="round"/>
<path d="M1427,742 Q1431,758 1436.4,766.7 M1427,878 Q1431,860 1436.4,851.4 M1494,742 Q1490,758 1485.3,766.7 M1494,878 Q1490,860 1485.3,851.4" fill="none" stroke="#2c2c2a" stroke-width="1.4"/>
</g>
<g id="dims" stroke="#74746f" stroke-width="2" fill="none">
<line x1="24" y1="470" x2="24" y2="706"/>
<line x1="266.8" y1="502" x2="266.8" y2="645"/>
<line x1="381.6" y1="541" x2="381.6" y2="706"/>
<line x1="523.6" y1="539" x2="523.6" y2="645"/>
<line x1="764.3" y1="338" x2="764.3" y2="706" stroke="#a39d98"/>
<line x1="24.5" y1="694" x2="381" y2="694"/><polygon points="24.5,694.0 43.5,689.3 43.5,698.7" fill="#62625d"/><polygon points="381.0,694.0 362.0,698.7 362.0,689.3" fill="#62625d"/>
<line x1="382" y1="694" x2="764" y2="694"/><polygon points="382.0,694.0 401.0,689.3 401.0,698.7" fill="#62625d"/><polygon points="764.0,694.0 745.0,698.7 745.0,689.3" fill="#62625d"/>
<line x1="267.3" y1="636" x2="381" y2="636"/><polygon points="267.3,636.0 286.3,631.3 286.3,640.7" fill="#62625d"/><polygon points="381.0,636.0 362.0,640.7 362.0,631.3" fill="#62625d"/>
<line x1="382" y1="636" x2="523" y2="636"/><polygon points="382.0,636.0 401.0,631.3 401.0,640.7" fill="#62625d"/><polygon points="523.0,636.0 504.0,640.7 504.0,631.3" fill="#62625d"/>
<line x1="861.8" y1="546" x2="861.8" y2="649.5"/>
<line x1="1505.8" y1="546" x2="1505.8" y2="649.5"/>
<line x1="862.3" y1="636" x2="1505.3" y2="636"/><polygon points="862.3,636.0 881.3,631.3 881.3,640.7" fill="#62625d"/><polygon points="1505.3,636.0 1486.3,640.7 1486.3,631.3" fill="#62625d"/>
<line x1="1440" y1="201" x2="1618" y2="201"/>
<line x1="1514" y1="538.3" x2="1618" y2="538.3"/>
<line x1="1604.5" y1="201.5" x2="1604.5" y2="537.8"/><polygon points="1604.5,201.5 1609.2,220.5 1599.8,220.5" fill="#62625d"/><polygon points="1604.5,537.8 1599.8,518.8 1609.2,518.8" fill="#62625d"/>
<line x1="957.2" y1="456" x2="957.2" y2="500" stroke="#b9b9b5" stroke-width="1.4"/>
<line x1="1140.8" y1="456" x2="1140.8" y2="500" stroke="#b9b9b5" stroke-width="1.4"/>
<line x1="957.2" y1="500" x2="957.2" y2="527.5" stroke="#85847f"/>
<line x1="1140.8" y1="500" x2="1140.8" y2="527.5" stroke="#85847f"/>
<line x1="957.7" y1="514.7" x2="1140.3" y2="514.7"/><polygon points="957.7,514.7 976.7,510.0 976.7,519.4" fill="#62625d"/><polygon points="1140.3,514.7 1121.3,519.4 1121.3,510.0" fill="#62625d"/>
</g>
<g id="labels">
<text x="324.8" y="616" font-size="41" text-anchor="middle" fill="#5e5e5c" font-weight="normal" textLength="41.5" lengthAdjust="spacingAndGlyphs">H1</text>
<text x="454.3" y="618.5" font-size="41" text-anchor="middle" fill="#5e5e5c" font-weight="normal" textLength="47" lengthAdjust="spacingAndGlyphs">46</text>
<text x="171" y="677.5" font-size="42" text-anchor="middle" fill="#5e5e5c" font-weight="normal" textLength="48.5" lengthAdjust="spacingAndGlyphs">L2</text>
<text x="581" y="677.5" font-size="42" text-anchor="middle" fill="#5e5e5c" font-weight="normal" textLength="70" lengthAdjust="spacingAndGlyphs">125</text>
<text x="1183.3" y="620" font-size="42.5" text-anchor="middle" fill="#5e5e5c" font-weight="normal" textLength="71.5" lengthAdjust="spacingAndGlyphs">210</text>
<text x="1045.5" y="497" font-size="40.5" text-anchor="middle" fill="#5e5e5c" font-weight="normal" textLength="45.5" lengthAdjust="spacingAndGlyphs">60</text>
<text x="1588" y="360" font-size="43.5" text-anchor="middle" fill="#5e5e5c" font-weight="normal" textLength="69" lengthAdjust="spacingAndGlyphs" transform="rotate(-90 1588 360)">110</text>
<text x="1123" y="797.5" font-size="37.5" text-anchor="middle" fill="#5e5e5c" font-weight="normal" textLength="54" lengthAdjust="spacingAndGlyphs" transform="rotate(-90 1123 797.5)">20°</text>
<text x="1178" y="800.3" font-size="37" text-anchor="middle" fill="#5e5e5c" font-weight="normal" textLength="68" lengthAdjust="spacingAndGlyphs" transform="rotate(-90 1178 800.3)">Ø12</text>
<text x="1600" y="804.7" font-size="36" text-anchor="middle" fill="#5e5e5c" font-weight="normal" textLength="46" lengthAdjust="spacingAndGlyphs" transform="rotate(-90 1600 804.7)">M8</text>
<text x="1337.7" y="983" font-size="35.5" text-anchor="middle" fill="#5e5e5c" font-weight="normal" textLength="35" lengthAdjust="spacingAndGlyphs">10</text>
<text x="1533.5" y="997" font-size="30" text-anchor="middle" fill="#5e5e5c" font-weight="bold" textLength="108" lengthAdjust="spacingAndGlyphs">( 2 : 1 )</text>
</g>
<g id="logo">
<rect x="1493" y="1110" width="37" height="37.5" rx="6.5" fill="#b2b2b2"/>
<g transform="translate(1511.5,1142.4) scale(1.1,1)"><text x="0" y="0" font-size="37" text-anchor="middle" fill="#ffffff">M</text></g>
<rect x="1538" y="1110" width="37" height="37.5" rx="6.5" fill="#b2b2b2"/>
<g transform="translate(1556.5,1142.4) scale(1.05,1)"><text x="0" y="0" font-size="37" text-anchor="middle" fill="#ffffff">T</text></g>
<rect x="1583" y="1110" width="37" height="37.5" rx="6.5" fill="#b2b2b2"/>
<g transform="translate(1601.5,1142.4) scale(1.1,1)"><text x="0" y="0" font-size="37" text-anchor="middle" fill="#ffffff">M</text></g>
<text x="1556.5" y="1165" font-size="19.5" text-anchor="middle" fill="#a9a9a9" textLength="119.5" lengthAdjust="spacingAndGlyphs">MOTOMARINE</text>
</g>
</svg>
</body></html>
